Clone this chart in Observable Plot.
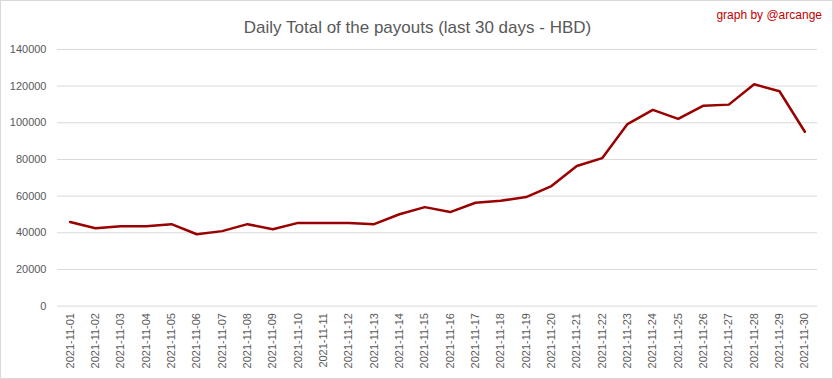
<!DOCTYPE html>
<html>
<head>
<meta charset="utf-8">
<script src="https://cdn.jsdelivr.net/npm/d3@7"></script>
<script src="https://cdn.jsdelivr.net/npm/@observablehq/plot@0.6"></script>
<style>
  html, body { margin: 0; padding: 0; background: #fff; }
  #wrap { position: relative; width: 831px; height: 377px; border: 1px solid #d9d9d9; overflow: hidden; font-family: "Liberation Sans", Arial, sans-serif; }
  #title { position: absolute; left: 0; width: 833px; top: 17px; text-align: center; font-size: 17px; color: #595959; }
  #credit { position: absolute; right: 10px; top: 7px; font-size: 12px; color: #c00000; }
  #chart { position: absolute; left: -1px; top: -1px; }
</style>
</head>
<body>
<div id="wrap">
  <div id="chart"></div>
  <div id="title">Daily Total of the payouts (last 30 days - HBD)</div>
  <div id="credit">graph by @arcange</div>
</div>
<script>
const dates = ["2021-11-01","2021-11-02","2021-11-03","2021-11-04","2021-11-05","2021-11-06","2021-11-07","2021-11-08","2021-11-09","2021-11-10","2021-11-11","2021-11-12","2021-11-13","2021-11-14","2021-11-15","2021-11-16","2021-11-17","2021-11-18","2021-11-19","2021-11-20","2021-11-21","2021-11-22","2021-11-23","2021-11-24","2021-11-25","2021-11-26","2021-11-27","2021-11-28","2021-11-29","2021-11-30"];
const payouts = [45900, 42500, 43600, 43600, 44700, 39200, 40900, 44700, 41900, 45400, 45400, 45400, 44700, 50100, 54000, 51300, 56400, 57500, 59500, 65500, 76400, 80700, 99300, 107000, 102100, 109300, 109900, 121000, 117200, 95100];
const yTicks = [0, 20000, 40000, 60000, 80000, 100000, 120000, 140000];

const data = dates.map((d, i) => ({date: d, value: payouts[i]}));

const chart = Plot.plot({
  width: 833,
  height: 379,
  marginTop: 49,
  marginBottom: 73,
  marginLeft: 57,
  marginRight: 15,
  style: {fontFamily: "'Liberation Sans', Arial, sans-serif", fontSize: "11px", color: "#595959", background: "transparent"},
  x: {type: "point", domain: dates, padding: 0.5, round: false, label: null},
  y: {domain: [0, 140000], label: null},
  marks: [
    Plot.ruleY(yTicks, {stroke: "#d9d9d9", strokeWidth: 1}),
    Plot.axisY({ticks: yTicks, tickSize: 0, tickPadding: 11, tickFormat: d => String(d), label: null, fill: "#595959"}),
    Plot.axisX({tickSize: 0, tickPadding: 7, tickRotate: -90, label: null, fill: "#595959"}),
    Plot.lineY(data, {x: "date", y: "value", stroke: "#990000", strokeWidth: 2.5, curve: "linear"})
  ]
});
document.getElementById("chart").appendChild(chart);
</script>
</body>
</html>
